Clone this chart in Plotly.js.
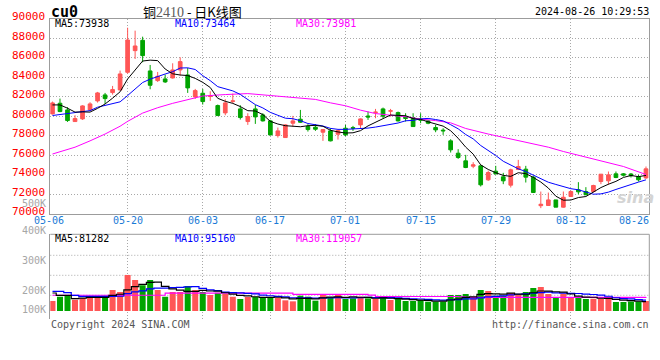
<!DOCTYPE html>
<html>
<head>
<meta charset="utf-8">
<script src="https://cdn.plot.ly/plotly-3.0.1.min.js"></script>
<style>html,body{margin:0;padding:0;background:#fff}#chart{width:660px;height:360px}</style>
</head>
<body>
<div id="chart"></div>
<script>
// ---------------- data ----------------
const dates = ['05-06','05-07','05-08','05-09','05-10','05-13','05-14','05-15','05-16','05-17',
'05-20','05-21','05-22','05-23','05-24','05-27','05-28','05-29','05-30','05-31',
'06-03','06-04','06-05','06-06','06-07','06-11','06-12','06-13','06-14','06-17',
'06-18','06-19','06-20','06-21','06-24','06-25','06-26','06-27','06-28','07-01',
'07-02','07-03','07-04','07-05','07-08','07-09','07-10','07-11','07-12','07-15',
'07-16','07-17','07-18','07-19','07-22','07-23','07-24','07-25','07-26','07-29',
'07-30','07-31','08-01','08-02','08-05','08-06','08-07','08-08','08-09','08-12',
'08-13','08-14','08-15','08-16','08-19','08-20','08-21','08-22','08-23','08-26'];

const open = [80216,81309,80626,79430,79704,80626,81548,82163,82402,82675,
84485,86704,87763,84621,83631,83802,83904,84724,84211,81958,
82333,82000,81070,80318,81500,80728,79430,80727,80113,79498,
77995,77790,79259,79669,78917,78849,78337,78473,78132,78746,
78800,79088,80000,80350,80727,80500,80352,79900,79839,79650,
79498,78815,78550,77449,76185,75400,74853,74887,73453,74341,
73760,72906,74511,74546,73726,70800,70819,71393,70650,71742,
72428,72257,72257,73282,73350,74068,74068,74050,73794,73650];

const high = [81480,81787,80900,80079,81104,81411,82470,82367,83084,84656,
89057,88753,88135,85236,84519,84246,85407,86022,84929,82777,
82777,82538,81172,81719,82299,81104,80284,81137,80283,79600,
78815,79150,80010,80625,79156,79156,78650,78746,78600,79088,
78986,79750,80454,80727,80864,80727,80454,80283,80283,80283,
79600,79088,78746,77620,76595,76015,75263,74950,74400,74887,
74170,74600,75502,74887,73860,72250,72150,71400,72255,72350,
73214,72701,72950,74033,74306,74306,74150,74150,73965,74819];

const low = [80148,80390,79396,79420,79601,80523,81377,81240,82197,82607,
84348,85851,85509,82743,83494,83392,83836,84143,82367,81753,
81172,81548,80011,80079,81309,79635,79089,79190,79430,78000,
77790,77760,78917,79300,78405,78473,77449,77400,77585,77927,
78473,78678,79600,79771,79771,79942,79430,79430,78917,79259,
79156,78337,78063,76253,75604,74650,74648,72770,73350,74000,
73009,72667,74450,73180,72100,70550,70800,70650,70600,71700,
71984,71900,72155,73009,72940,73624,73794,73692,73282,73550];

const close = [81343,80455,79533,79738,81035,81240,82367,81787,82709,84314,
87797,87183,86192,83152,84075,83494,84724,85577,82880,82607,
81480,82060,80045,81343,81548,79840,79943,79908,79498,78063,
78473,79088,79498,79361,78610,78644,78610,77449,78508,78063,
78760,79703,79900,80400,79976,80530,79498,79750,78917,79580,
79259,78576,78480,76527,75741,74716,74990,72940,74204,74068,
73350,74477,74819,73726,72155,70950,71393,70650,71666,72255,
72223,71916,72872,74033,73965,73692,73931,73870,73453,74580];

const ma5 = [81137,81137,80800,80400,80421,80400,80783,81233,81828,82483,
83795,84758,85639,85728,85680,84819,84327,84204,84150,83856,
83454,82921,81814,81507,81295,80967,80544,80516,80147,79450,
79177,79006,78924,78897,79006,79040,78945,78535,78364,78255,
78278,78497,78987,79365,79748,80102,80061,80031,79734,79655,
79401,79216,78962,78484,77717,76808,76091,74983,74518,74184,
73910,73808,74184,74088,73705,73225,72609,71775,71363,71383,
71637,71742,72186,72660,73002,73296,73699,73898,73782,73905];

const ma10 = [80050,80150,80200,80300,80400,80550,80900,81100,81250,81452,
82098,82770,83436,83778,84082,84307,84543,84922,84939,84768,
84136,83624,83009,82829,82576,82210,81732,81165,80827,80373,
80072,79775,79720,79522,79228,79109,78975,78729,78630,78630,
78659,78721,78761,78865,79001,79190,79279,79509,79550,79701,
79751,79639,79497,79109,78686,78104,77654,76973,76501,75950,
75359,74949,74583,74303,73945,73568,73208,72979,72725,72544,
72431,72175,71981,72011,72192,72467,72720,73042,73221,73454];

const ma30Dates = ['05-06','05-07','05-09','05-13','05-15','05-17','05-20','05-22','05-24','05-28',
'05-30','06-03','06-06','06-12','06-17','06-19','06-21','06-25','06-27','07-01',
'07-03','07-05','07-09','07-11','07-15','07-17','07-19','07-23','07-26','07-30',
'08-02','08-07','08-09','08-14','08-19','08-21','08-26'];
const ma30 = [76100,76350,76800,77450,78150,78950,79450,80300,80850,81300,
81700,82050,82200,82300,82100,81950,81800,81700,81350,81050,
80600,80250,80080,79930,79680,79530,79300,78720,78150,77830,
77350,76800,76360,75800,75250,74820,74000];

const volume = [87000,124700,133400,98600,113100,124700,121800,133400,182700,165300,
313200,269700,223300,269700,182700,124700,165300,165300,217500,182700,
165300,139200,159500,147900,124700,104400,121800,121800,118900,121800,
113100,92800,84100,133400,124700,89900,139200,118900,139200,104400,
110200,124700,110200,104400,118900,95700,110200,87000,87000,95700,
81200,81200,81200,139200,139200,147900,110200,182700,174000,133400,
133400,156600,139200,165300,200100,208800,147900,116000,150800,116000,
120000,105000,106000,108000,106000,78300,78300,82000,82000,86000];

const volMa5 = [156600,136300,136300,107300,111360,118900,118320,118320,135140,145580,
183280,212860,230840,248240,251720,214020,193140,181540,171100,171100,
179220,174000,172840,158920,147320,135140,131660,124120,118320,117740,
119480,113680,106140,109040,109620,104980,114260,121220,122380,118320,
122380,119480,117740,110780,113680,110780,107880,103240,99760,95120,
92220,86420,85260,95700,104400,117740,123540,143840,150800,149640,
146740,156020,147320,145580,158920,174000,172260,167620,164720,147900,
130140,121560,119560,111000,109000,100660,95320,90520,85320,81320];

const volMa10 = [171100,171100,159500,136300,127600,127600,127600,127600,127600,128470,
151090,165590,174580,191690,198650,198650,203000,206190,209670,211410,
196620,183570,177190,165010,159210,157180,152830,148480,138620,132530,
127310,122670,115130,113680,113680,112230,113970,113680,115710,113970,
113680,116870,119480,116580,116000,116580,113680,110490,105270,104400,
101500,97150,94250,97730,99760,104980,104980,114550,123250,127020,
132240,139780,145580,148190,154280,160370,164140,157470,155150,153410,
152070,146910,143590,137860,128450,115400,108440,105040,98160,95160];

const volMa30Dates = ['05-06','05-24','05-27','06-19','06-20','07-04','07-05','07-22','07-23','08-26'];
const volMa30 = [137000,137000,156000,156000,145000,138000,126000,124000,118000,119000];

const dateTicks = ['05-06','05-20','06-03','06-17','07-01','07-15','07-29','08-12','08-26'];
const priceTicks = [70000,72000,74000,76000,78000,80000,82000,84000,86000,88000,90000];
const volTickLabels = ['500K','400K','300K','200K','100K'];
const priceLegend = ['MA5:73938','MA10:73464','MA30:73981'];
const volLegend = ['MA5:81282','MA10:95160','MA30:119057'];
const symbol = 'cu0';
const titleName = '铜', titleCode = '2410', titleRest = ' - 日K线图';
const stamp = '2024-08-26 10:29:53';

// ---------------- styling ----------------
const W = 660, H = 360;
const fx = p => p / W;
const fy = p => 1 - p / H;
const MONO = 'DejaVu Sans Mono, Liberation Mono, monospace';
const RED = '#ff5656', GREEN = '#00a400', TXTBLUE = '#1a7ad6';
const GRIDC = '#a8a8a8', FRAMEC = '#9c9c9c', DOT = '1px,2px';
const X_DOM = [fx(50.3), fx(649.3)];
const xRange = [-0.29, 79.44];
const gridDates = dateTicks.slice(1, -1);
const volColors = close.map((c, i) => (c >= open[i] ? RED : GREEN));
const legendColors = ['#000000', '#0000ff', '#ff00ff'];

const traces = [
  {type: 'candlestick', x: dates, open: open, high: high, low: low, close: close,
   xaxis: 'x', yaxis: 'y', whiskerwidth: 0, hoverinfo: 'skip',
   increasing: {line: {color: RED, width: 1}, fillcolor: RED},
   decreasing: {line: {color: GREEN, width: 1}, fillcolor: GREEN}},
  {type: 'scatter', mode: 'lines', x: ma30Dates, y: ma30, xaxis: 'x', yaxis: 'y',
   line: {color: '#ff00ff', width: 1}, hoverinfo: 'skip'},
  {type: 'scatter', mode: 'lines', x: dates, y: ma10, xaxis: 'x', yaxis: 'y',
   line: {color: '#0000ff', width: 1}, hoverinfo: 'skip'},
  {type: 'scatter', mode: 'lines', x: dates, y: ma5, xaxis: 'x', yaxis: 'y',
   line: {color: '#000000', width: 1}, hoverinfo: 'skip'},
  {type: 'bar', x: dates, y: volume, xaxis: 'x2', yaxis: 'y2',
   marker: {color: volColors, line: {width: 0}}, hoverinfo: 'skip'},
  {type: 'scatter', mode: 'lines', x: volMa30Dates, y: volMa30, xaxis: 'x2', yaxis: 'y2',
   line: {color: '#ff00ff', width: 1.2, shape: 'hv'}, hoverinfo: 'skip'},
  {type: 'scatter', mode: 'lines', x: dates, y: volMa10, xaxis: 'x2', yaxis: 'y2',
   line: {color: '#0000ff', width: 1.2, shape: 'hvh'}, hoverinfo: 'skip'},
  {type: 'scatter', mode: 'lines', x: dates, y: volMa5, xaxis: 'x2', yaxis: 'y2',
   line: {color: '#000000', width: 1.2, shape: 'hvh'}, hoverinfo: 'skip'}
];

const ann = (text, x, y, opts) => Object.assign({
  text: text, x: x, y: y, xref: 'paper', yref: 'paper', showarrow: false,
  xanchor: 'left', yanchor: 'middle', align: 'left', borderpad: 0,
  font: {family: MONO, size: 10, color: '#000'}
}, opts || {});

const annotations = [];
annotations.push(ann(symbol, fx(64), fy(12), {xanchor: 'center', align: 'center',
  font: {family: MONO, size: 15, color: '#000', weight: 'bold'}}));
annotations.push(ann(titleName + '<span style="font-family:Liberation Serif;font-size:14px;color:#5a5a5a">' + titleCode + '</span>' + titleRest,
  fx(141.5), fy(11.5), {font: {family: 'Noto Sans CJK SC, sans-serif', size: 13, color: '#000'}}));
annotations.push(ann(stamp, fx(649.5), fy(11.5), {xanchor: 'right', align: 'right'}));
const legendX = [54, 174, 294.7];
priceLegend.forEach((t, i) => annotations.push(ann(t, fx(legendX[i]), fy(23.5), {font: {family: MONO, size: 10, color: legendColors[i]}})));
volLegend.forEach((t, i) => annotations.push(ann(t, fx(legendX[i]), fy(238.5), {font: {family: MONO, size: 10, color: legendColors[i]}})));
const volLabelY = [203.3, 230.7, 260.7, 290, 309.3];
volTickLabels.forEach((t, i) => annotations.push(ann(t, fx(46.5), fy(volLabelY[i]), {xanchor: 'right', align: 'right', font: {family: MONO, size: 10, color: '#a6a6a6'}})));
dateTicks.forEach((t, i) => {
  const dateFont = {family: MONO, size: 10, color: TXTBLUE};
  if (i === 0) annotations.push(ann(t, fx(49), fy(220.7), {xanchor: 'center', align: 'center', font: dateFont}));
  else if (i === dateTicks.length - 1) annotations.push(ann(t, fx(649.5), fy(220.7), {xanchor: 'right', align: 'right', font: dateFont}));
  else annotations.push(ann(t, t, fy(220.7), {xref: 'x', xanchor: 'center', align: 'center', font: dateFont}));
});
annotations.push(ann('Copyright 2024 SINA.COM', fx(50), fy(324), {font: {family: MONO, size: 10, color: '#555'}}));
annotations.push(ann('http://finance.sina.com.cn', fx(649.5), fy(324), {xanchor: 'right', align: 'right', font: {family: MONO, size: 10, color: '#555'}}));
annotations.push(ann('sina', fx(635), fy(197), {xanchor: 'center', align: 'center',
  font: {family: 'DejaVu Sans, sans-serif', size: 16, color: '#d4d4d4', weight: 'bold', style: 'italic'}}));

const shapes = [];
[255.3, 275.3, 295.3].forEach(p => shapes.push({type: 'line', xref: 'paper', yref: 'paper',
  x0: X_DOM[0], x1: X_DOM[1], y0: fy(p), y1: fy(p), layer: 'below',
  line: {color: GRIDC, width: 1, dash: DOT}}));
shapes.push({type: 'line', xref: 'paper', yref: 'paper', x0: X_DOM[0], x1: X_DOM[1],
  y0: fy(234.3), y1: fy(234.3), line: {color: FRAMEC, width: 1}});
shapes.push({type: 'line', xref: 'paper', yref: 'paper', x0: X_DOM[1], x1: X_DOM[1],
  y0: fy(311), y1: fy(234.3), line: {color: FRAMEC, width: 1}});

const layout = {
  width: W, height: H, margin: {l: 0, r: 0, t: 0, b: 0},
  paper_bgcolor: '#ffffff', plot_bgcolor: '#ffffff', showlegend: false,
  boxgap: 0.3, bargap: 0.2, hovermode: false,
  xaxis: {type: 'category', categoryorder: 'array', categoryarray: dates,
    domain: X_DOM, range: xRange, anchor: 'y', rangeslider: {visible: false},
    tickmode: 'array', tickvals: gridDates, showticklabels: false, ticks: '',
    showgrid: true, gridcolor: GRIDC, gridwidth: 1, griddash: DOT,
    showline: true, mirror: true, linecolor: FRAMEC, linewidth: 1, zeroline: false, fixedrange: true},
  yaxis: {domain: [fy(213.5), fy(18.5)], range: [70000, 90000], anchor: 'x',
    tickmode: 'array', tickvals: priceTicks, ticktext: priceTicks.map(String),
    tickfont: {family: MONO, size: 11, color: '#ff0000'}, ticks: '', ticklabelstandoff: 2, ticklabelshift: -2,
    showgrid: true, gridcolor: GRIDC, gridwidth: 1, griddash: DOT,
    showline: true, mirror: true, linecolor: FRAMEC, linewidth: 1, zeroline: false, fixedrange: true},
  xaxis2: {type: 'category', categoryorder: 'array', categoryarray: dates,
    domain: X_DOM, range: xRange, anchor: 'y2',
    tickmode: 'array', tickvals: gridDates, showticklabels: false, ticks: '',
    showgrid: true, gridcolor: GRIDC, gridwidth: 1, griddash: DOT,
    showline: false, zeroline: false, fixedrange: true},
  yaxis2: {domain: [fy(319), fy(234.3)], range: [-69600, 667290], anchor: 'x2',
    showticklabels: false, ticks: '', showgrid: false, zeroline: false,
    showline: true, linecolor: FRAMEC, linewidth: 1, fixedrange: true},
  shapes: shapes,
  annotations: annotations
};

Plotly.newPlot('chart', traces, layout, {staticPlot: true, displayModeBar: false});
</script>
</body>
</html>
